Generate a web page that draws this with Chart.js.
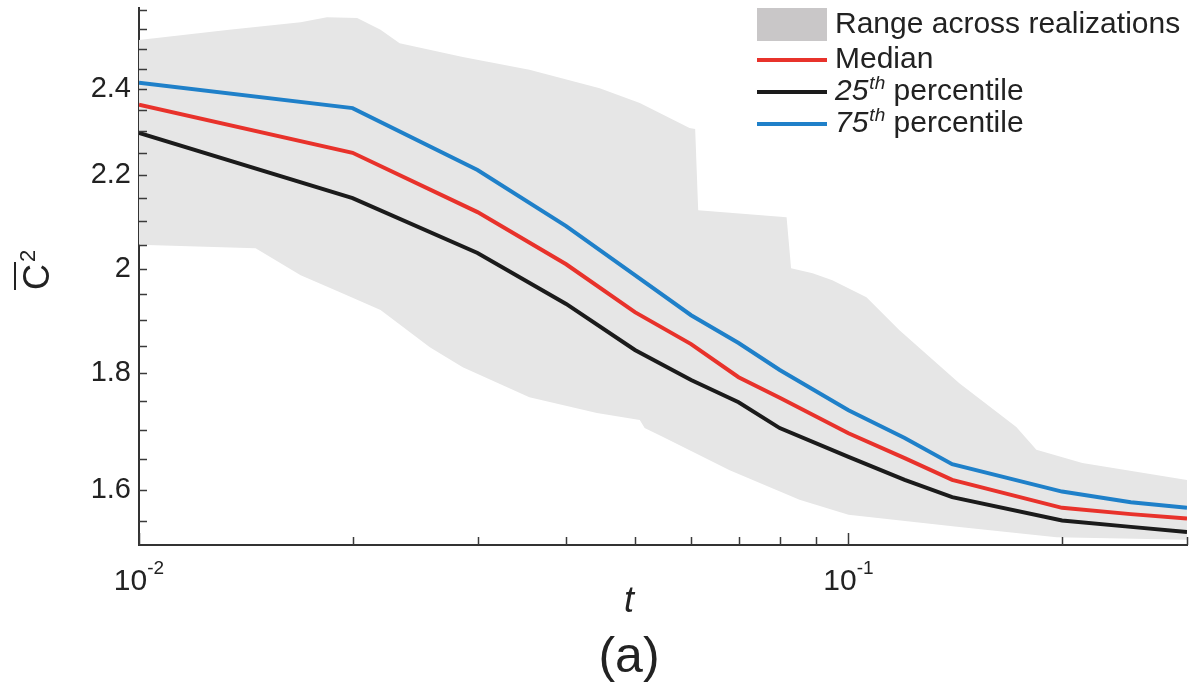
<!DOCTYPE html>
<html>
<head>
<meta charset="utf-8">
<script src="https://cdn.jsdelivr.net/npm/chart.js@4.4.0/dist/chart.umd.min.js"></script>
<style>
  html, body { margin: 0; padding: 0; background: #fff; }
  #wrap { width: 1202px; height: 687px; }
</style>
</head>
<body>
<div id="wrap"><canvas id="chart" width="1202" height="687"></canvas></div>
<script>
// time samples shared by the three percentile curves
const tValues = [0.01, 0.02, 0.03, 0.04, 0.05, 0.06, 0.07, 0.08, 0.1, 0.12, 0.14, 0.2, 0.25, 0.3];
const median  = [2.362, 2.250, 2.119, 2.010, 1.915, 1.854, 1.793, 1.756, 1.694, 1.652, 1.616, 1.571, 1.561, 1.554];
const p25     = [2.296, 2.149, 2.033, 1.931, 1.843, 1.788, 1.748, 1.703, 1.654, 1.616, 1.588, 1.551, 1.541, 1.533];
const p75     = [2.415, 2.354, 2.211, 2.089, 1.988, 1.909, 1.856, 1.806, 1.734, 1.686, 1.642, 1.597, 1.580, 1.571];

// envelope of all realizations (upper and lower edges)
const rangeTopT = [0.01, 0.0134, 0.0169, 0.0184, 0.0203, 0.0219, 0.0233, 0.0286, 0.0355, 0.0446, 0.0508, 0.0597, 0.0608, 0.0614, 0.0818, 0.0830, 0.089, 0.0949, 0.106, 0.118, 0.1433, 0.1724, 0.184, 0.2136, 0.3];
const rangeTop  = [2.522, 2.548, 2.568, 2.581, 2.579, 2.548, 2.514, 2.479, 2.447, 2.402, 2.366, 2.307, 2.305, 2.123, 2.108, 2.002, 1.992, 1.978, 1.944, 1.880, 1.782, 1.705, 1.666, 1.644, 1.616];
const rangeBotT = [0.01, 0.0146, 0.0169, 0.0192, 0.0219, 0.0257, 0.0286, 0.0355, 0.0442, 0.0508, 0.0516, 0.0547, 0.068, 0.0853, 0.1, 0.1433, 0.1964, 0.3];
const rangeBot  = [2.050, 2.043, 1.988, 1.954, 1.919, 1.848, 1.811, 1.757, 1.729, 1.717, 1.703, 1.688, 1.632, 1.584, 1.560, 1.541, 1.525, 1.521];

// axes
const xTicks = [0.01, 0.02, 0.03, 0.04, 0.05, 0.06, 0.07, 0.08, 0.09, 0.1, 0.2, 0.3];
const xLabelValues = [0.01, 0.1];
const xLabelExp = ['-2', '-1'];
const yTicks = [1.55, 1.6, 1.65, 1.7, 1.75, 1.8, 1.85, 1.9, 1.95, 2.0, 2.05, 2.1, 2.15, 2.2, 2.25, 2.3, 2.35, 2.4, 2.45, 2.5, 2.55, 2.6];
const yLabelValues = [1.6, 1.8, 2.0, 2.2, 2.4];
const yLabelText = ['1.6', '1.8', '2', '2.2', '2.4'];
const yMin = 1.513, yMax = 2.605;

const legendItems = [
    { label: 'Median', sup: '', color: '#e8322b' },
    { label: '25', sup: 'th', rest: ' percentile', color: '#1b1b1b' },
    { label: '75', sup: 'th', rest: ' percentile', color: '#1f80c9' }
];

const FONT = '"Liberation Sans", Arial, Helvetica, sans-serif';

function pts(xs, ys) {
    return xs.map((x, i) => ({ x: x, y: ys[i] }));
}

// closed outline: along the top edge, then back along the bottom edge
const rangeShape = pts(rangeTopT, rangeTop).concat(pts(rangeBotT, rangeBot).reverse());
rangeShape.push({ x: rangeTopT[0], y: rangeTop[0] });

const decor = {
    id: 'decor',
    afterDraw(chart) {
        const { ctx, chartArea: a, scales: { x, y } } = chart;
        ctx.save();

        // tick marks point into the plot
        ctx.strokeStyle = '#3a3a3a';
        ctx.lineWidth = 1.5;
        y.ticks.forEach(t => {
            const py = Math.round(y.getPixelForValue(t.value)) + 0.5;
            ctx.beginPath();
            ctx.moveTo(a.left, py);
            ctx.lineTo(a.left + 8, py);
            ctx.stroke();
        });
        x.ticks.forEach(t => {
            const px = Math.round(x.getPixelForValue(t.value)) + 0.5;
            const len = xLabelValues.includes(t.value) ? 12 : 8;
            ctx.beginPath();
            ctx.moveTo(px, a.bottom);
            ctx.lineTo(px, a.bottom - len);
            ctx.stroke();
        });

        // y tick labels
        ctx.fillStyle = '#222';
        ctx.font = '29px ' + FONT;
        ctx.textAlign = 'right';
        ctx.textBaseline = 'middle';
        yLabelValues.forEach((v, i) => {
            ctx.fillText(yLabelText[i], a.left - 8, y.getPixelForValue(v));
        });

        // x tick labels: 10 with a raised exponent
        ctx.textAlign = 'left';
        ctx.textBaseline = 'alphabetic';
        xLabelValues.forEach((v, i) => {
            const px = x.getPixelForValue(v);
            ctx.font = '30px ' + FONT;
            const wb = ctx.measureText('10').width;
            ctx.font = '19px ' + FONT;
            const ws = ctx.measureText(xLabelExp[i]).width;
            const start = px - (wb + ws) / 2;
            ctx.font = '30px ' + FONT;
            ctx.fillText('10', start, 590);
            ctx.font = '19px ' + FONT;
            ctx.fillText(xLabelExp[i], start + wb, 574);
        });

        // axis title and panel tag
        ctx.textAlign = 'center';
        ctx.font = 'italic 36px ' + FONT;
        ctx.fillText('t', 629, 612);
        ctx.font = '50px ' + FONT;
        ctx.fillText('(a)', 629, 672);

        // y title: C with overbar and squared, rotated
        ctx.save();
        ctx.translate(36, 272);
        ctx.rotate(-Math.PI / 2);
        ctx.textAlign = 'left';
        ctx.font = '36px ' + FONT;
        const cw = ctx.measureText('C').width;
        ctx.fillText('C', -cw / 2 - 5, 13);
        ctx.font = '22px ' + FONT;
        ctx.fillText('2', cw / 2 - 3, -1);
        ctx.fillStyle = '#222';
        ctx.fillRect(-cw / 2 - 5, -22, cw + 2, 2);
        ctx.restore();

        // legend
        const lx0 = 757, lx1 = 827, tx = 835;
        ctx.fillStyle = '#c9c7c8';
        ctx.fillRect(lx0, 8, lx1 - lx0, 33);
        ctx.fillStyle = '#222';
        ctx.textAlign = 'left';
        ctx.textBaseline = 'middle';
        ctx.font = '30px ' + FONT;
        ctx.fillText('Range across realizations', tx, 25);
        const rows = [60, 92, 124];
        legendItems.forEach((item, i) => {
            const ry = rows[i];
            ctx.strokeStyle = item.color;
            ctx.lineWidth = 4;
            ctx.beginPath();
            ctx.moveTo(lx0, ry);
            ctx.lineTo(lx1, ry);
            ctx.stroke();
            ctx.fillStyle = '#222';
            if (!item.sup) {
                ctx.font = '30px ' + FONT;
                ctx.fillText(item.label, tx, ry);
                return;
            }
            ctx.font = 'italic 30px ' + FONT;
            ctx.fillText(item.label, tx, ry);
            let cx = tx + ctx.measureText(item.label).width + 1;
            ctx.font = 'italic 19px ' + FONT;
            ctx.fillText(item.sup, cx, ry - 8);
            cx += ctx.measureText(item.sup).width;
            ctx.font = '30px ' + FONT;
            ctx.fillText(item.rest, cx, ry);
        });

        ctx.restore();
    }
};

const lineStyle = { showLine: true, pointRadius: 0, borderWidth: 4, tension: 0, fill: false };

new Chart(document.getElementById('chart'), {
    type: 'scatter',
    data: {
        datasets: [
            {
                label: 'Range across realizations',
                data: rangeShape,
                showLine: true,
                pointRadius: 0,
                borderWidth: 0,
                borderColor: 'rgba(0,0,0,0)',
                backgroundColor: '#e6e6e6',
                fill: 'shape',
                order: 3
            },
            Object.assign({ label: '75th percentile', data: pts(tValues, p75), borderColor: '#1f80c9', order: 2 }, lineStyle),
            Object.assign({ label: 'Median', data: pts(tValues, median), borderColor: '#e8322b', order: 1 }, lineStyle),
            Object.assign({ label: '25th percentile', data: pts(tValues, p25), borderColor: '#1b1b1b', order: 0 }, lineStyle)
        ]
    },
    options: {
        responsive: false,
        animation: false,
        devicePixelRatio: 1,
        layout: { padding: { top: 8, right: 15, left: 0, bottom: 0 } },
        plugins: { legend: { display: false }, tooltip: { enabled: false } },
        scales: {
            x: {
                type: 'logarithmic',
                min: 0.01,
                max: 0.3,
                grid: { display: false },
                border: { display: true, color: '#333', width: 2 },
                ticks: { display: false },
                afterBuildTicks: (scale) => { scale.ticks = xTicks.map(v => ({ value: v })); },
                afterFit: (scale) => { scale.height = 142; }
            },
            y: {
                type: 'logarithmic',
                min: yMin,
                max: yMax,
                grid: { display: false },
                border: { display: true, color: '#333', width: 2 },
                ticks: { display: false },
                afterBuildTicks: (scale) => { scale.ticks = yTicks.map(v => ({ value: v })); },
                afterFit: (scale) => { scale.width = 139; }
            }
        }
    },
    plugins: [decor]
});
</script>
</body>
</html>
